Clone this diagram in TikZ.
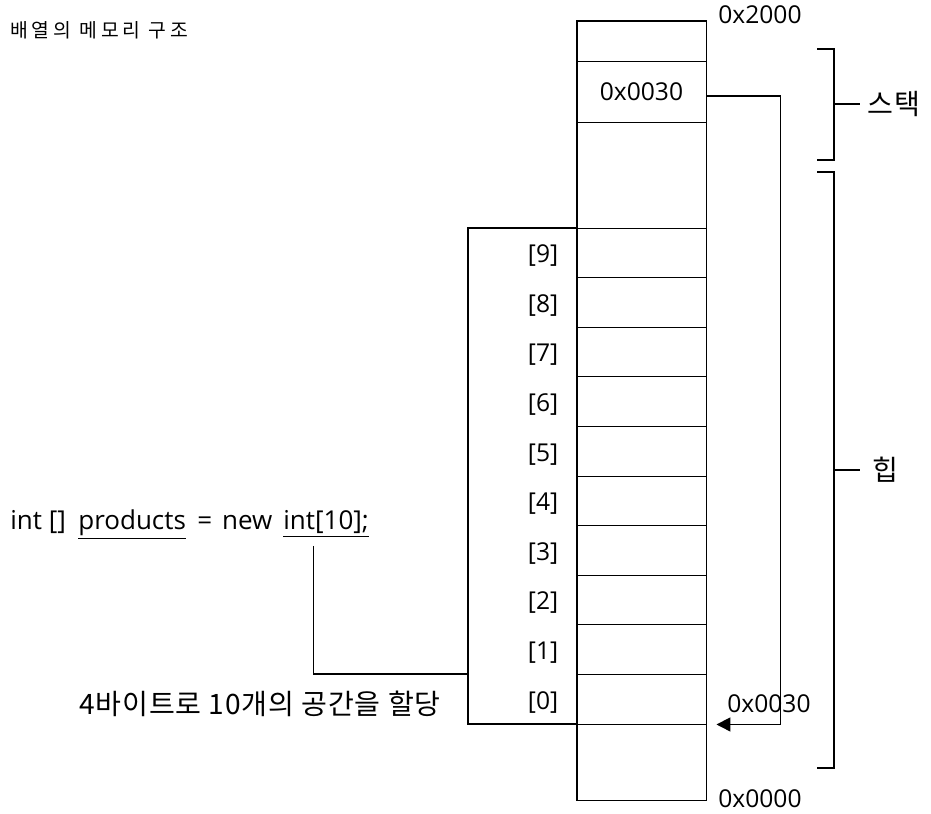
\documentclass[tikz,border=0pt]{standalone}
\usepackage{fontspec}
\setmainfont{Open Sans}
\newfontfamily\krfont[LetterSpace=3]{Noto Sans CJK KR}
\newfontfamily\krtitle[LetterSpace=20]{Noto Sans CJK KR}
\usetikzlibrary{positioning,arrows.meta}

\begin{document}
\begin{tikzpicture}[
        x=0.02cm, y=-0.02cm,
        cell/.style={rectangle, draw, line width=0.55pt, minimum width=2.58cm, inner sep=0pt, font=\fontsize{14}{16}\selectfont},
        idx/.style={anchor=east, inner sep=0pt, font=\fontsize{14}{16}\selectfont},
        txt/.style={inner sep=0pt, font=\fontsize{14}{16}\selectfont},
        code/.style={anchor=base west, inner sep=0pt, font=\fontsize{14.8}{16}\selectfont},
        ktxt/.style={inner sep=0pt, font=\krfont\fontsize{16}{18}\selectfont},
        frame/.style={line width=0.9pt},
        wire/.style={line width=0.9pt},
        ptr/.style={line width=0.9pt, -{Triangle[length=2.8mm, width=2.8mm]}},
        brace/.style={line width=1.1pt}
    ]
    \useasboundingbox (0,0) rectangle (931,814);

    % memory column
    \node[cell, minimum height=0.8cm] (ctop) at (641.5,41) {};
    \node[cell, minimum height=1.22cm] (stk) at (641.5,91.5) {0x0030};
    \node[cell, minimum height=2.12cm] (cfree) at (641.5,175) {};
    \foreach \k in {0,...,9} {
        \node[cell, minimum height=0.992cm] (c\k) at (641.5,{724-49.6*\k-24.8}) {};
        \node[idx] (i\k) at ([xshift=-0.36cm, yshift=-0.06cm]c\k.west) {[\k]};
    }
    \node[cell, minimum height=1.52cm] (cbot) at (641.5,762) {};
    \draw[frame] (ctop.north west) rectangle (cbot.south east);

    % array block
    \node[draw, frame, minimum width=2.18cm, minimum height=9.92cm, inner sep=0pt] (arr) at (522.5,476) {};

    % addresses
    \node[txt, anchor=west] (hi) at (718,15) {0x2000};
    \node[txt, anchor=west] (lo) at (718,799) {0x0000};
    \node[txt, anchor=west] (ref) at (727,704) {0x0030};
    \coordinate (tip) at ([xshift=0.2cm]c0.south east);
    \draw[ptr] ([yshift=-0.09cm]stk.east) -- ++(74,0) |- (tip);

    % stack / heap
    \node[ktxt] (stack) at (894,104) {스택};
    \node[ktxt] (heap) at (885,470) {힙};
    \draw[brace] (817,49) -- (834,49) -- (834,160) -- (817,160);
    \draw[brace] (834,104) -- ++(26,0);
    \draw[brace] (817,172) -- (834,172) -- (834,768) -- (817,768);
    \draw[brace] (834,470) -- ++(26,0);

    % code
    \node[code] (decl) at (10,530) {int []};
    \node[code] (prod) at (78,530) {\underline{products}};
    \node[code] (eqnew) at (197,530) {=\hspace{14\pgflinewidth}new};
    \node[code] (newint) at (283,530) {\underline{int[10];}};
    \draw[wire] ([xshift=-0.25cm, yshift=-0.16cm]newint.south) |- (arr.west |- c0.north);
    \node[ktxt] (alloc) at (260,704) {4바이트로 10개의 공간을 할당};

    \node[anchor=west, inner sep=0pt, font=\krtitle\fontsize{11}{13}\selectfont] (title) at (10,30) {배열의 메모리 구조};
\end{tikzpicture}
\end{document}
